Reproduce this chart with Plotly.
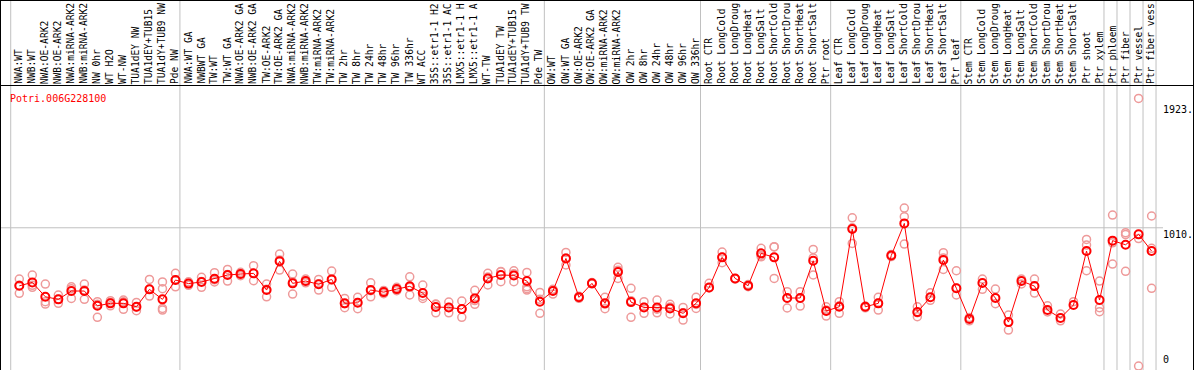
import plotly.graph_objects as go

gene_name = "Potri.006G228100"

categories = [
    "NWA:WT", "NWB:WT", "NWA:OE-ARK2", "NWB:OE-ARK2", "NWA:miRNA-ARK2", "NWB:miRNA-ARK2",
    "NW 0hr", "WT H2O", "WT-NW", "TUA1dEY NW", "TUA1dEY+TUB15", "TUA1dY+TUB9 NW", "Pde NW",
    "NWA:WT GA", "NWBWT GA", "TW:WT", "TW:WT GA", "NWA:OE-ARK2 GA", "NWB:OE-ARK2 GA",
    "TW:OE-ARK2", "TW:OE-ARK2 GA", "NWA:miRNA-ARK2", "NWB:miRNA-ARK2", "TW:miRNA-ARK2",
    "TW:miRNA-ARK2", "TW 2hr", "TW 8hr", "TW 24hr", "TW 48hr", "TW 96hr", "TW 336hr",
    "WT ACC", "35S::etr1-1 H2", "35S::etr1-1 AC", "LMX5::etr1-1 H", "LMX5::etr1-1 A",
    "WT-TW", "TUA1dEY TW", "TUA1dEY+TUB15", "TUA1dY+TUB9 TW", "Pde TW",
    "OW:WT", "OW:WT GA", "OW:OE-ARK2", "OW:OE-ARK2 GA", "OW:miRNA-ARK2", "OW:miRNA-ARK2",
    "OW 2hr", "OW 8hr", "OW 24hr", "OW 48hr", "OW 96hr", "OW 336hr",
    "Root CTR", "Root LongCold", "Root LongDroug", "Root LongHeat", "Root LongSalt",
    "Root ShortCold", "Root ShortDrou", "Root ShortHeat", "Root ShortSalt", "Ptr root",
    "Leaf CTR", "Leaf LongCold", "Leaf LongDroug", "Leaf LongHeat", "Leaf LongSalt",
    "Leaf ShortCold", "Leaf ShortDrou", "Leaf ShortHeat", "Leaf ShortSalt", "Ptr leaf",
    "Stem CTR", "Stem LongCold", "Stem LongDroug", "Stem LongHeat", "Stem LongSalt",
    "Stem ShortCold", "Stem ShortDrou", "Stem ShortHeat", "Stem ShortSalt", "Ptr shoot",
    "Ptr xylem", "Ptr phloem", "Ptr fiber", "Ptr vessel", "Ptr fiber vess",
]

mean_values = [
    586, 611, 506, 487, 548, 548, 440, 458, 458, 433, 560, 487, 628,
    602, 614, 638, 665, 672, 677, 555, 765, 604, 621, 597, 633, 458, 462, 555, 540, 562,
    582, 533, 431, 428, 416, 494, 640, 665, 662, 621, 470,
    548, 786, 502, 604, 458, 687, 467, 428, 428, 421, 385, 458,
    574, 794, 640, 587, 823, 794, 497, 497, 769, 402,
    433, 1001, 433, 458, 808, 1042, 394, 502, 774, 568,
    343, 606, 497, 321, 621, 584, 409, 351, 446, 840, 482,
    916, 886, 962, 840,
]

replicate_values = [
    [635, 531, 590], [665, 575, 590], [599, 470, 453], [519, 458, 487], [579, 565, 494],
    [599, 487, 555], [470, 356, 452], [477, 465, 440], [482, 414, 470], [465, 404, 430],
    [633, 511, 560], [614, 565, 421, 409], [677, 579, 628],
    [615, 590, 602], [648, 575, 618], [682, 614, 630], [706, 621, 668], [685, 660, 672],
    [733, 623, 677], [599, 506, 560], [818, 701, 775], [672, 526, 614], [635, 608, 621],
    [633, 555, 600], [694, 575, 630], [494, 426, 455], [502, 419, 465], [608, 506, 550],
    [552, 528, 540], [575, 550, 562], [652, 519, 575], [592, 494, 510], [453, 389, 450],
    [467, 389, 428], [475, 356, 416], [553, 451, 478], [677, 592, 650], [689, 616, 690],
    [696, 616, 675], [684, 579, 555, 565], [538, 385, 487],
    [526, 560, 555], [830, 738, 790], [510, 495], [610, 600], [502, 419, 453],
    [721, 640, 700], [568, 356, 477], [470, 385, 430], [482, 389, 415], [451, 380, 432],
    [428, 336, 390], [502, 421, 450],
    [604, 570], [833, 755, 794], [640, 635], [595, 580], [860, 798, 810], [872, 640, 870],
    [543, 424, 497], [543, 438, 497], [852, 665, 790], [433, 365, 410],
    [470, 385, 440], [1083, 896, 1010], [438, 425], [502, 409, 460], [815, 800],
    [1154, 1091, 891], [433, 360, 390], [535, 480], [828, 706, 790], [696, 519, 570],
    [355, 330], [635, 560], [562, 455], [372, 263], [635, 600], [635, 533], [440, 395],
    [380, 330], [470], [925, 884, 696], [621, 426, 397],
    [1103, 745, 900], [974, 960, 692], [1955, 0, 931], [1096, 860, 568],
]

# index of first category of each group (plus end)
group_starts = [0, 13, 41, 53, 63, 73, 84, 85, 86, 87, 88]

y_tick_values = [1923, 1010, 0]
y_tick_labels = ["1923.", "1010.", "0"]
grid_values = [1010]

# ---------------- layout geometry ----------------
W, H = 1194, 370
TOP = 85
x0_px, step_px = 19.3, 13.015
x_lo = -x0_px / step_px
x_hi = (W - x0_px) / step_px
y_lo, y_hi = -29, 2053


def paper_y(px):
    return (H - px) / (H - TOP)


idx = list(range(len(categories)))
rep_x, rep_y = [], []
for i, reps in enumerate(replicate_values):
    for v in reps:
        rep_x.append(i)
        rep_y.append(v)

fig = go.Figure()
fig.add_trace(go.Scatter(
    x=rep_x, y=rep_y, mode="markers",
    marker=dict(symbol="circle-open", size=8, color="#ee9a9a", line=dict(width=1.5, color="#ee9a9a")),
    hoverinfo="skip", showlegend=False,
))
fig.add_trace(go.Scatter(
    x=idx, y=mean_values, mode="lines+markers",
    line=dict(color="#ff0000", width=1),
    marker=dict(symbol="circle-open", size=8, color="#ff0000", line=dict(width=2, color="#ff0000")),
    text=categories, showlegend=False,
))

shapes = []
for g in group_starts:
    xv = g - 0.66
    shapes.append(dict(type="line", xref="x", yref="paper", x0=xv, x1=xv, y0=0, y1=paper_y(0),
                       line=dict(color="#c0c0c0", width=1), layer="below"))
for gv in grid_values:
    shapes.append(dict(type="line", xref="x", yref="y", x0=x_lo, x1=(1163 - x0_px) / step_px,
                       y0=gv, y1=gv, line=dict(color="#c0c0c0", width=1), layer="below"))
# frame
shapes.append(dict(type="line", xref="paper", yref="paper", x0=0, x1=1, y0=paper_y(TOP + 0.5), y1=paper_y(TOP + 0.5),
                   line=dict(color="black", width=1)))
shapes.append(dict(type="line", xref="paper", yref="paper", x0=0, x1=1, y0=paper_y(0.5), y1=paper_y(0.5),
                   line=dict(color="black", width=1)))
shapes.append(dict(type="line", xref="paper", yref="paper", x0=0.5 / W, x1=0.5 / W, y0=0, y1=paper_y(0),
                   line=dict(color="black", width=1)))
shapes.append(dict(type="line", xref="paper", yref="paper", x0=(W - 0.5) / W, x1=(W - 0.5) / W, y0=0, y1=paper_y(0),
                   line=dict(color="black", width=1)))

annotations = []
mono = "DejaVu Sans Mono"
for i, c in enumerate(categories):
    annotations.append(dict(x=i, y=1, xref="x", yref="paper", text=c, showarrow=False,
                            textangle=-90, xanchor="center", yanchor="bottom", yshift=0, xshift=-1,
                            font=dict(family=mono, size=9.6, color="black"), borderpad=0))
annotations.append(dict(x=8 / W, y=paper_y(98), xref="paper", yref="paper", text=gene_name, showarrow=False,
                        xanchor="left", yanchor="middle", font=dict(family=mono, size=10, color="#ff0000")))
for v, t in zip(y_tick_values, y_tick_labels):
    annotations.append(dict(x=1162 / W, y=v, xref="paper", yref="y", text=t, showarrow=False,
                            xanchor="left", yanchor="top" if v > 0 else "bottom", borderpad=0,
                            font=dict(family=mono, size=10, color="black")))

fig.update_layout(
    width=W, height=H,
    margin=dict(l=0, r=0, t=TOP, b=0, pad=0),
    paper_bgcolor="white", plot_bgcolor="white",
    xaxis=dict(range=[x_lo, x_hi], visible=False, showgrid=False, zeroline=False),
    yaxis=dict(range=[y_lo, y_hi], visible=False, showgrid=False, zeroline=False),
    shapes=shapes, annotations=annotations, showlegend=False,
)

fig.write_html("out.html", config={"displayModeBar": False},
               post_script="document.body.style.margin='0px';document.body.style.overflow='hidden';")
